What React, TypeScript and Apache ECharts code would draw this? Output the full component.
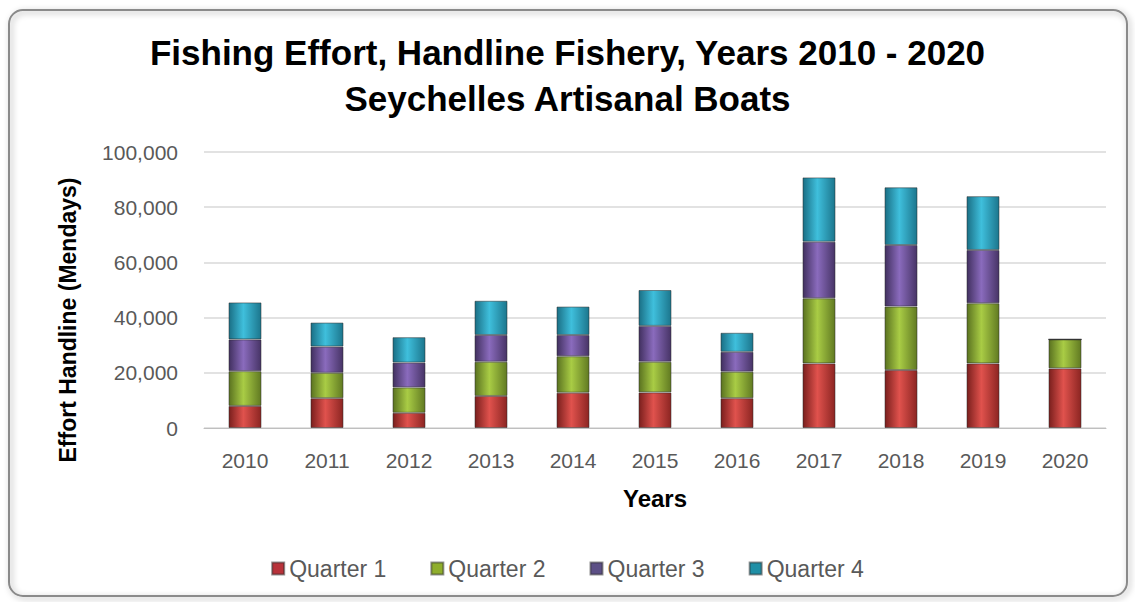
import React, { useEffect, useRef } from "react";
import * as echarts from "echarts";

const years = ["2010", "2011", "2012", "2013", "2014", "2015", "2016", "2017", "2018", "2019", "2020"];
const quarter1 = [8000, 10800, 5500, 11600, 12800, 12900, 10800, 23400, 21000, 23400, 21600];
const quarter2 = [12600, 9200, 9200, 12400, 13200, 11100, 9600, 23600, 23000, 21800, 10500];
const quarter3 = [11500, 9500, 9000, 9700, 7700, 13000, 7200, 20500, 22300, 19300, 0];
const quarter4 = [13400, 8700, 9200, 12400, 10300, 13000, 6900, 23300, 20900, 19500, 0];
const seriesNames = ["Quarter 1", "Quarter 2", "Quarter 3", "Quarter 4"];
const seriesColors = [
  ["#7a1f1d", "#e0524d", "#8c2522"],
  ["#5a7220", "#a9cc45", "#617a22"],
  ["#41305f", "#8a6bbd", "#473466"],
  ["#1a6f85", "#3fbfdc", "#1c768d"],
];
const legendColors = ["#b8323a", "#8fae2c", "#5c4f86", "#1f8fa6"];

const FONT = "'Liberation Sans', 'Open Sans', sans-serif";

export default function App() {
  const ref = useRef<HTMLDivElement>(null);
  useEffect(() => {
    const chart = echarts.init(ref.current!, null, { renderer: "svg" });
    const dataSets = [quarter1, quarter2, quarter3, quarter4];
    chart.setOption({
      animation: false,
      backgroundColor: "#ffffff",
      title: [
        {
          text: "Fishing Effort, Handline Fishery, Years 2010 - 2020",
          left: "center",
          top: 30,
          textStyle: { fontFamily: FONT, fontWeight: "bold", fontSize: 35, color: "#000" },
        },
        {
          text: "Seychelles Artisanal Boats",
          left: "center",
          top: 76,
          textStyle: { fontFamily: FONT, fontWeight: "bold", fontSize: 35, color: "#000" },
        },
      ],
      graphic: [
        {
          type: "rect",
          shape: { x: 9, y: 10, width: 1118, height: 586, r: 14 },
          style: { fill: "none", stroke: "#8a8a8a", lineWidth: 2, shadowBlur: 6, shadowColor: "rgba(0,0,0,0.35)", shadowOffsetX: 2, shadowOffsetY: 2 },
          z: -10,
        },
        {
          type: "text",
          x: 68,
          y: 320,
          rotation: Math.PI / 2,
          style: {
            text: "Effort Handline (Mendays)",
            fontFamily: FONT,
            fontWeight: "bold",
            fontSize: 23,
            fill: "#000",
            align: "center",
            verticalAlign: "middle",
          },
        },
      ],
      legend: {
        data: seriesNames.map((n, i) => ({ name: n, itemStyle: { color: legendColors[i] } })),
        top: 552,
        left: "center",
        itemWidth: 12,
        itemHeight: 12,
        itemGap: 44,
        icon: "rect",
        textStyle: { fontFamily: FONT, fontSize: 23, color: "#595959" },
      },
      grid: { left: 204, right: 29, top: 152, bottom: 174 },
      xAxis: {
        type: "category",
        data: years,
        name: "Years",
        nameLocation: "middle",
        nameGap: 58,
        nameTextStyle: { fontFamily: FONT, fontWeight: "bold", fontSize: 24, color: "#000" },
        axisLine: { lineStyle: { color: "#bfbfbf" } },
        axisTick: { show: false },
        axisLabel: { fontFamily: FONT, fontSize: 21, color: "#595959", margin: 22 },
      },
      yAxis: {
        type: "value",
        min: 0,
        max: 100000,
        interval: 20000,
        axisLine: { show: false },
        axisTick: { show: false },
        splitLine: { lineStyle: { color: "#d9d9d9", width: 1.5 } },
        axisLabel: {
          fontFamily: FONT,
          fontSize: 21,
          color: "#595959",
          margin: 26,
          formatter: (v: number) => v.toLocaleString("en-US"),
        },
      },
      series: dataSets.map((d, i) => ({
        name: seriesNames[i],
        type: "bar",
        stack: "total",
        barWidth: 33,
        data: d,
        itemStyle: {
          color: new echarts.graphic.LinearGradient(0, 0, 1, 0, [
            { offset: 0, color: seriesColors[i][0] },
            { offset: 0.45, color: seriesColors[i][1] },
            { offset: 1, color: seriesColors[i][2] },
          ]),
          borderColor: "rgba(40,40,40,0.5)",
          borderWidth: 1,
        },
      })),
    });
    return () => chart.dispose();
  }, []);
  return (
    <div
      ref={ref}
      style={{ position: "absolute", left: 0, top: 0, width: 1135, height: 602 }}
    />
  );
}
